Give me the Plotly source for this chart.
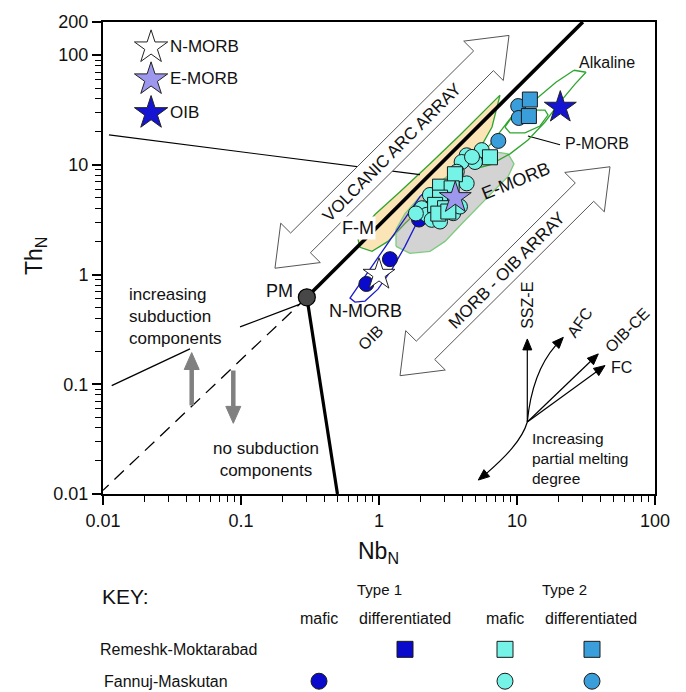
import math
import plotly.graph_objects as go

FONT = "Liberation Sans, Arial, sans-serif"

# ---------------- DATA (N-MORB normalised) ----------------
ref_names = ["N-MORB", "E-MORB", "OIB"]
ref_nb = [1.0, 3.57, 20.6]
ref_th = [1.0, 5.0, 33.3]
ref_fill = ["#FFFFFF", "#9D97EE", "#1414D2"]
legend_star_nb = [0.0223, 0.0223, 0.0223]
legend_star_th = [117.5, 60.1, 29.6]

pm_nb = [0.3]
pm_th = [0.62]

# Type 1 mafic, Fannuj-Maskutan
t1_mafic_fm_nb = [0.81, 1.20, 1.95]
t1_mafic_fm_th = [0.82, 1.38, 3.17]
# Type 2 mafic, Fannuj-Maskutan (circles)
t2_mafic_fm_nb = [5.55, 4.32, 4.96, 3.97, 3.66, 4.32, 3.09, 2.34, 2.04, 2.22,
                  2.62, 3.45, 2.41, 3.18, 2.34, 4.72, 3.86, 2.77, 1.85]
t2_mafic_fm_th = [13.6, 12.2, 10.6, 10.6, 8.64, 6.77, 5.69, 4.31, 4.02, 3.50,
                  3.50, 3.62, 3.15, 5.90, 5.31, 11.8, 4.16, 3.04, 3.60]
# Type 2 mafic, Remeshk-Moktarabad (squares)
t2_mafic_rm_nb = [6.37, 3.55, 2.77, 3.36, 3.09, 2.77, 2.55, 3.01, 2.69, 3.18]
t2_mafic_rm_th = [11.7, 8.20, 6.32, 6.10, 4.79, 5.02, 4.31, 4.02, 3.59, 3.75]
# Type 2 differentiated
t2_diff_fm_nb = [10.2, 10.3, 7.32]
t2_diff_fm_th = [34.3, 26.7, 16.5]
t2_diff_rm_nb = [12.4, 12.2]
t2_diff_rm_th = [39.3, 27.8]

# ---------------- DIAGRAM GEOMETRY (Nb_N, Th_N) ----------------
upper_bound_nb = [0.3, 30.0]
upper_bound_th = [0.62, 200.0]
lower_bound_nb = [0.3, 0.5]
lower_bound_th = [0.62, 0.01]
dashed_nb = [0.3, 0.01]
dashed_th = [0.62, 0.0108]
subd_a_nb = [0.268, 0.0984]
subd_a_th = [0.538, 0.333]
subd_b_nb = [0.0427, 0.01156]
subd_b_th = [0.21, 0.097]
long_line_nb = [0.01105, 1.98]
long_line_th = [18.7, 8.12]
pmorb_leader_nb = [12.0, 20.5]
pmorb_leader_th = [18.3, 15.2]

fm_field_nb = [7.53, 6.59, 5.22, 3.554, 2.342, 1.543, 1.162, 0.890, 0.728, 0.705,
               0.792, 0.935, 1.42, 2.342, 3.864, 5.864, 7.53]
fm_field_th = [43.1, 22.1, 13.1, 7.78, 4.815, 2.918, 2.004, 1.626, 1.768, 2.089,
               2.741, 3.522, 5.69, 10.2, 18.7, 31.5, 43.1]
emorb_field_nb = [1.328, 1.677, 2.342, 3.008, 3.996, 5.216, 6.927, 8.605, 9.513,
                  8.605, 6.927, 5.216, 3.864, 2.767, 1.982, 1.543, 1.328, 1.328]
emorb_field_th = [1.806, 1.56, 1.626, 2.004, 2.918, 4.161, 5.935, 7.78, 10.21,
                  12.58, 13.12, 11.82, 9.592, 7.015, 5.152, 3.595, 2.575, 1.806]
nmorb_loop_nb = [2.154, 2.265, 1.982, 1.543, 1.242, 0.9835, 0.792, 0.67, 0.6165,
                 0.792, 1.017, 1.306, 1.677, 1.982, 2.154]
nmorb_loop_th = [5.69, 5.021, 3.378, 1.806, 1.117, 0.7358, 0.5727, 0.561, 0.6097,
                 0.965, 1.528, 2.418, 3.749, 5.127, 5.69]
alk_field_nb = [25.88, 19.16, 13.5, 9.354, 7.53, 6.373, 5.216, 4.72, 4.963, 6.373,
                8.897, 12.02, 15.95, 20.5, 26.32, 31.62, 25.88]
alk_field_th = [72.66, 56.56, 38.86, 28.4, 19.92, 15.18, 11.82, 10.21, 9.2, 10.0,
                12.58, 16.85, 24.54, 37.26, 54.25, 69.7, 72.66]
pmorb_loop_nb = [8.185, 9.2, 12.02, 15.95, 16.77, 14.68, 11.43, 8.897, 8.185]
pmorb_loop_th = [22.11, 27.24, 31.52, 31.52, 28.4, 22.57, 19.51, 19.51, 22.11]

vaa_arrow_nb = [0.1763, 0.3755, 0.3184, 6.745, 7.957, 8.75, 4.11, 4.85, 0.2288, 0.194, 0.1763]
vaa_arrow_th = [1.141, 1.285, 1.579, 72.06, 58.6, 150.9, 133.9, 108.9, 2.388, 2.937, 1.141]
mo_arrow_nb = [1.420, 3.023, 2.533, 35.96, 42.92, 47.2, 22.17, 26.45, 1.864, 1.561, 1.420]
mo_arrow_th = [0.1197, 0.1348, 0.1682, 4.648, 3.726, 9.592, 8.515, 6.826, 0.247, 0.308, 0.1197]

x_ticks = [0.01, 0.1, 1, 10, 100]
x_ticktext = ["0.01", "0.1", "1", "10", "100"]
y_ticks = [0.01, 0.1, 1, 10, 100, 200]
y_ticktext = ["0.01", "0.1", "1", "10", "100", "200"]

DARK = "#0A0ACC"
CYAN = "#74F3E6"
STEEL = "#3A9EDB"

# ---------------- layout helpers (pixel -> paper) ----------------
L, R, T, B = 103, 655, 20, 494


def X(px):
    return (px - L) / (R - L)


def Y(py):
    return (B - py) / (B - T)


fig = go.Figure()


def line(nb, th, color="black", width=1.3, dash=None, fill=None, fillcolor=None):
    fig.add_trace(go.Scatter(x=nb, y=th, mode="lines", hoverinfo="skip",
                             line=dict(color=color, width=width, dash=dash),
                             fill=fill, fillcolor=fillcolor))


# fields
line(fm_field_nb, fm_field_th, color="#2EA52E", width=1.3, fill="toself", fillcolor="#FBE4B5")
line(emorb_field_nb, emorb_field_th, color="#7CCB7C", width=1.3, fill="toself",
     fillcolor="rgba(150,150,150,0.42)")
# thin lines
line(long_line_nb, long_line_th, width=1.2)
line(pmorb_leader_nb, pmorb_leader_th, width=1.1)
line(subd_a_nb, subd_a_th, width=1.3)
line(subd_b_nb, subd_b_th, width=1.3)
line(dashed_nb, dashed_th, width=1.3, dash="13px,8px")
# hollow double arrows
line(vaa_arrow_nb, vaa_arrow_th, color="#555555", width=1.0, fill="toself", fillcolor="white")
line(mo_arrow_nb, mo_arrow_th, color="#555555", width=1.0, fill="toself", fillcolor="white")
# outlines
line(nmorb_loop_nb, nmorb_loop_th, color="#1A1ACC", width=1.3)
line(alk_field_nb, alk_field_th, color="#2EA52E", width=1.3)
line(pmorb_loop_nb, pmorb_loop_th, color="#2EA52E", width=1.3)
# thick boundaries
line(upper_bound_nb, upper_bound_th, width=3.6)
line(lower_bound_nb, lower_bound_th, width=3.2)


def pts(nb, th, symbol, color, size=15):
    fig.add_trace(go.Scatter(x=nb, y=th, mode="markers", hoverinfo="skip",
                             marker=dict(symbol=symbol, size=size, color=color,
                                         line=dict(color="#1a1a1a", width=1))))


pts(t1_mafic_fm_nb, t1_mafic_fm_th, "circle", DARK)
pts(t2_mafic_fm_nb, t2_mafic_fm_th, "circle", CYAN)
pts(t2_mafic_rm_nb, t2_mafic_rm_th, "square", CYAN)
pts(t2_diff_fm_nb, t2_diff_fm_th, "circle", STEEL)
pts(t2_diff_rm_nb, t2_diff_rm_th, "square", STEEL)

# reference stars and legend stars
fig.add_trace(go.Scatter(x=ref_nb, y=ref_th, mode="markers", hoverinfo="skip",
                         marker=dict(symbol="star", size=24, color=ref_fill,
                                     line=dict(color="#222222", width=1))))
fig.add_trace(go.Scatter(x=legend_star_nb, y=legend_star_th, mode="markers", hoverinfo="skip",
                         marker=dict(symbol="star", size=25, color=ref_fill,
                                     line=dict(color="#222222", width=1))))
# primitive mantle
fig.add_trace(go.Scatter(x=pm_nb, y=pm_th, mode="markers", hoverinfo="skip",
                         marker=dict(symbol="circle", size=17, color="#474747",
                                     line=dict(color="black", width=1.2))))

annotations = []
shapes = []


def ann(text, px, py, size=17, xanchor="center", yanchor="middle", **kw):
    d = dict(text=text, x=X(px), y=Y(py), xref="paper", yref="paper", showarrow=False,
             xanchor=xanchor, yanchor=yanchor,
             font=dict(size=size, color="#111111", family=FONT))
    d.update(kw)
    annotations.append(d)


def head(tx, ty, fx, fy, color="black", length=11, half=4.5):
    """filled triangular arrow head at tip (tx,ty) pointing away from (fx,fy); returns base"""
    dx, dy = tx - fx, ty - fy
    n = math.hypot(dx, dy)
    dx, dy = dx / n, dy / n
    bx, by = tx - length * dx, ty - length * dy
    px_, py_ = -dy, dx
    p1 = (bx + half * px_, by + half * py_)
    p2 = (bx - half * px_, by - half * py_)
    shapes.append(dict(type="path", xref="paper", yref="paper",
                       path=f"M{X(tx)},{Y(ty)} L{X(p1[0])},{Y(p1[1])} L{X(p2[0])},{Y(p2[1])} Z",
                       fillcolor=color, line=dict(color=color, width=1)))
    return bx, by


def straight_arrow(tx, ty, ox, oy, color="black", width=1.2, length=11, half=4.5):
    bx, by = head(tx, ty, ox, oy, color, length, half)
    shapes.append(dict(type="line", xref="paper", yref="paper",
                       x0=X(ox), y0=Y(oy), x1=X(bx), y1=Y(by),
                       line=dict(color=color, width=width)))


# legend labels
for name, py in zip(ref_names, [45, 77, 111]):
    ann(name, 168, py, size=17, xanchor="left")

ann("Alkaline", 607, 61, size=16)
ann("P-MORB", 563, 142, size=16, xanchor="left")
ann("VOLCANIC ARC ARRAY", 392, 151, size=17, textangle=-45)
ann("MORB - OIB ARRAY", 507, 270, size=17, textangle=-45)
ann("F-M", 358, 227, size=18, bgcolor="white", borderpad=1)
ann("E-MORB", 516, 180, size=18, textangle=-22)
ann("N-MORB", 365, 310, size=18)
ann("PM", 279, 290, size=18)
ann("OIB", 371, 337, size=16, textangle=-45)
ann("increasing<br>subduction<br>components", 127, 316, size=17, xanchor="left", align="left")
ann("no subduction<br>components", 266, 459.5, size=17, align="center")
ann("SSZ-E", 528, 305, size=16, textangle=-90)
ann("AFC", 580, 322, size=16, textangle=-55)
ann("OIB-CE", 627, 330, size=16, textangle=-45)
ann("FC", 621, 367, size=16)
ann("Increasing<br>partial melting<br>degree", 530, 458, size=15.5, xanchor="left", align="left")

# axis titles
ann("Th<sub>N</sub>", 35, 255, size=23, textangle=-90)
ann("Nb<sub>N</sub>", 378, 553, size=23)

# key
ann("KEY:", 100, 597, size=21, xanchor="left")
ann("Type 1", 379, 590, size=15)
ann("Type 2", 564, 590, size=15)
ann("mafic", 319, 619, size=16)
ann("differentiated", 405, 619, size=16)
ann("mafic", 505, 619, size=16)
ann("differentiated", 591, 619, size=16)
ann("Remeshk-Moktarabad", 98, 650, size=16, xanchor="left")
ann("Fannuj-Maskutan", 102, 682, size=16, xanchor="left")

# grey subduction arrows
straight_arrow(191.7, 352, 191.7, 405, color="#808080", width=4.5, length=17, half=7.5)
straight_arrow(233.3, 423, 233.3, 370, color="#808080", width=4.5, length=17, half=7.5)

# process arrows from a common origin
O = (527.3, 421.7)
straight_arrow(527.3, 338.3, *O)
straight_arrow(598.3, 353.3, *O)
straight_arrow(605, 365, *O)
# AFC (curved)
afc_base = head(563.3, 336.7, 532, 370)
shapes.append(dict(type="path", xref="paper", yref="paper",
                   path=f"M{X(O[0])},{Y(O[1])} Q{X(532)},{Y(372)} {X(afc_base[0])},{Y(afc_base[1])}",
                   line=dict(color="black", width=1.2)))
# partial melting (curved)
pm_base = head(478.3, 480, 505, 458)
shapes.append(dict(type="path", xref="paper", yref="paper",
                   path=f"M{X(O[0])},{Y(O[1])} C{X(522)},{Y(440)} {X(505)},{Y(457)} "
                        f"{X(pm_base[0])},{Y(pm_base[1])}",
                   line=dict(color="black", width=1.2)))


def key_marker(kind, px, py, color):
    shapes.append(dict(type="rect" if kind == "square" else "circle",
                       xref="paper", yref="paper", xsizemode="pixel", ysizemode="pixel",
                       xanchor=X(px), yanchor=Y(py), x0=-8, x1=8, y0=-8, y1=8,
                       fillcolor=color, line=dict(color="#1a1a1a", width=1)))


key_marker("square", 405, 650, DARK)
key_marker("square", 505, 650, CYAN)
key_marker("square", 592, 650, STEEL)
key_marker("circle", 319, 682, DARK)
key_marker("circle", 505, 682, CYAN)
key_marker("circle", 592, 682, STEEL)

minor_x = [m * 10 ** e for e in range(-2, 2) for m in range(2, 10)]
minor_y = [m * 10 ** e for e in range(-2, 2) for m in range(2, 10)]

axis_common = dict(type="log", showgrid=False, zeroline=False, ticks="outside",
                   ticklen=9, tickwidth=1.5, tickcolor="black", showline=True,
                   linecolor="black", linewidth=2, mirror=True,
                   tickfont=dict(size=18, color="#111111", family=FONT))

fig.update_layout(
    width=686, height=692,
    margin=dict(l=L, r=686 - R, t=T, b=692 - B),
    paper_bgcolor="white", plot_bgcolor="white",
    showlegend=False,
    xaxis=dict(range=[-2, 2], tickvals=x_ticks, ticktext=x_ticktext,
               minor=dict(tickvals=minor_x, ticks="outside", ticklen=6, tickwidth=1.2,
                          tickcolor="black"),
               **axis_common),
    yaxis=dict(range=[-2, 2.30103], tickvals=y_ticks, ticktext=y_ticktext,
               minor=dict(tickvals=minor_y, ticks="outside", ticklen=6, tickwidth=1.2,
                          tickcolor="black"),
               **axis_common),
    annotations=annotations,
    shapes=shapes,
)

fig.write_html("out.html", config={"displayModeBar": False},
               post_script="document.body.style.margin='0px';")
